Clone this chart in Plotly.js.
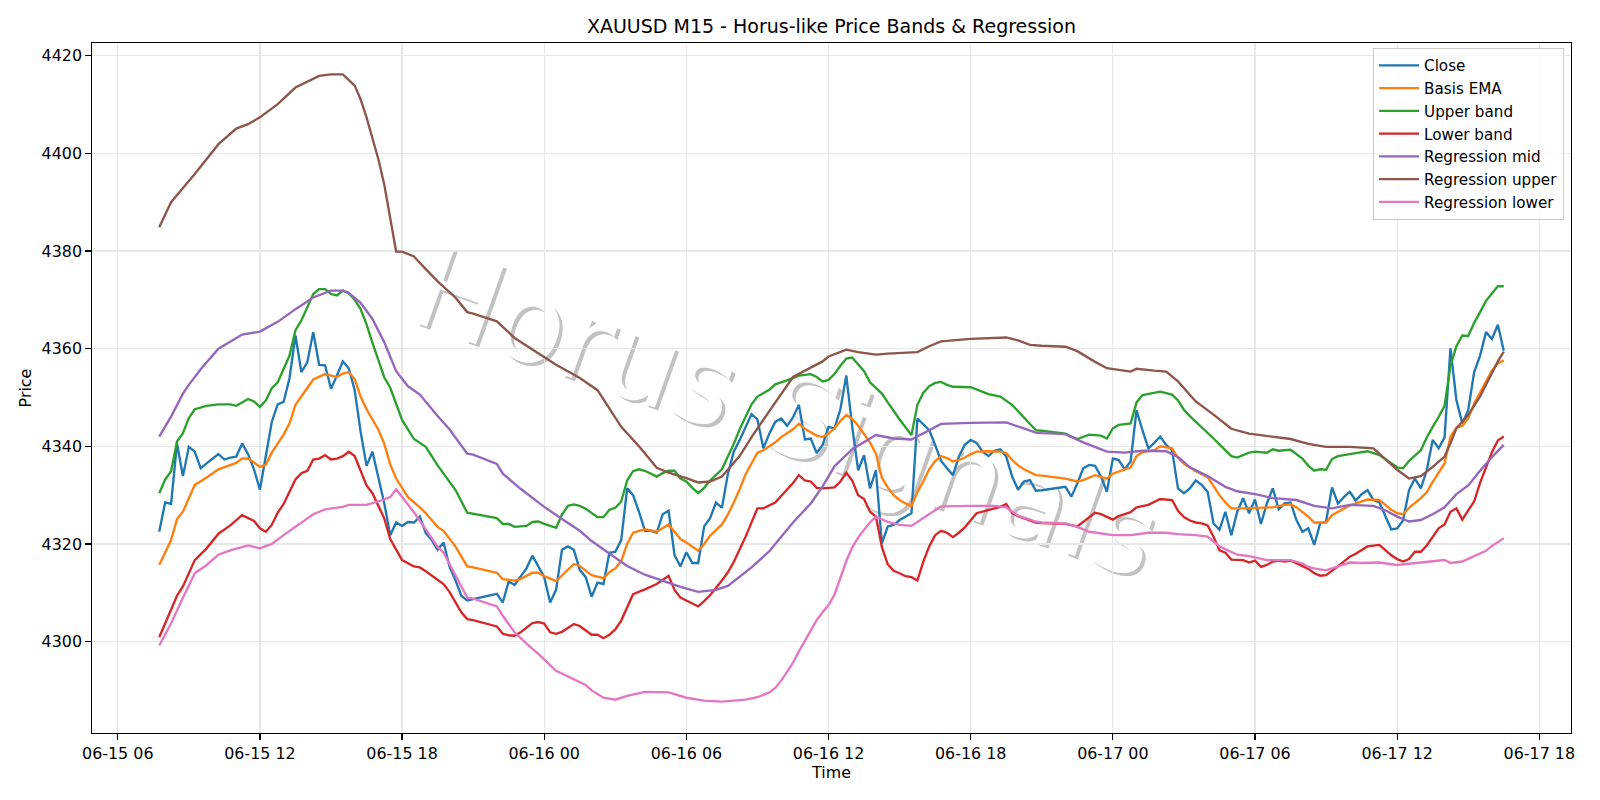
<!DOCTYPE html>
<html>
<head>
<meta charset="utf-8">
<script src="https://cdn.plot.ly/plotly-3.0.1.min.js"></script>
<style>html,body{margin:0;padding:0;background:#fff}#chart{width:1600px;height:800px}</style>
</head>
<body>
<div id="chart"></div>
<script>
// ---- data (time "DD HH:MM" in June, value) ----
const closeData = [
["15 07:45",4322.5],["15 08:00",4328.5],["15 08:15",4328.2],["15 08:30",4340.6],["15 08:45",4333.9],["15 09:00",4339.9],["15 09:15",4338.9],["15 09:30",4335.5],["15 09:45",4336.5],["15 10:00",4337.4],["15 10:15",4338.4],["15 10:30",4337.3],["15 10:45",4337.7],["15 11:00",4337.9],["15 11:15",4340.6],["15 11:30",4338.4],["15 11:45",4335.3],["15 12:00",4331.1],["15 12:15",4338.0],["15 12:30",4345.0],["15 12:45",4348.6],["15 13:00",4349.1],["15 13:15",4354.0],["15 13:30",4362.7],["15 13:45",4355.2],["15 14:00",4357.2],["15 14:15",4363.4],["15 14:30",4356.7],["15 14:45",4356.6],["15 15:00",4351.8],["15 15:15",4354.5],["15 15:30",4357.4],["15 15:45",4356.0],["15 16:00",4351.5],["15 16:15",4343.0],["15 16:30",4336.0],["15 16:45",4338.9],["15 17:00",4333.8],["15 17:15",4328.3],["15 17:30",4321.8],["15 17:45",4324.4],["15 18:00",4323.7],["15 18:15",4324.5],["15 18:30",4324.4],["15 18:45",4325.6],["15 19:00",4322.2],["15 19:15",4320.8],["15 19:30",4318.8],["15 19:45",4320.3],["15 20:00",4315.4],["15 20:15",4312.6],["15 20:30",4309.4],["15 20:45",4308.4],["15 21:00",4308.7],
["15 22:00",4309.8],["15 22:15",4308.0],["15 22:30",4312.3],["15 22:45",4311.6],["15 23:00",4313.3],["15 23:15",4315.0],["15 23:30",4317.6],["15 23:45",4315.4],
["16 00:00",4313.2],["16 00:15",4308.0],["16 00:30",4310.6],["16 00:45",4318.8],["16 01:00",4319.5],["16 01:15",4318.8],["16 01:30",4314.7],["16 01:45",4313.2],["16 02:00",4309.2],["16 02:15",4312.1],["16 02:30",4311.8],["16 02:45",4318.2],["16 03:00",4318.4],["16 03:15",4320.8],["16 03:30",4331.4],["16 03:45",4330.0],["16 04:00",4326.6],["16 04:15",4322.7],["16 04:30",4322.7],["16 04:45",4322.3],["16 05:00",4326.1],["16 05:15",4326.8],["16 05:30",4317.7],["16 05:45",4315.4],["16 06:00",4318.3],["16 06:15",4316.1],["16 06:30",4316.1],["16 06:45",4323.6],["16 07:00",4325.3],["16 07:15",4328.5],["16 07:30",4327.4],["16 07:45",4334.3],["16 08:00",4338.9],["16 08:15",4341.3],["16 08:30",4344.0],["16 08:45",4346.6],["16 09:00",4345.5],["16 09:15",4339.6],["16 09:30",4342.6],["16 09:45",4345.0],["16 10:00",4345.7],["16 10:15",4344.2],["16 10:30",4345.9],["16 10:45",4348.5],["16 11:00",4341.4],["16 11:15",4341.6],["16 11:30",4338.6],["16 11:45",4340.3],["16 12:00",4344.0],["16 12:15",4343.7],["16 12:30",4347.6],["16 12:45",4354.5],["16 13:00",4344.0],["16 13:15",4335.1],["16 13:30",4338.2],["16 13:45",4331.4],["16 14:00",4335.1],["16 14:15",4320.1],["16 14:30",4323.6],["16 14:45",4323.9],["16 15:00",4324.9],["16 15:15",4325.6],["16 15:30",4326.3],["16 15:45",4345.7],["16 16:00",4344.4],["16 16:15",4343.3],["16 16:30",4340.3],["16 16:45",4337.0],["16 17:00",4335.5],["16 17:15",4334.1],["16 17:30",4337.9],["16 17:45",4340.3],["16 18:00",4341.3],["16 18:15",4340.7],["16 18:30",4338.9],["16 18:45",4338.0],["16 19:00",4339.1],["16 19:15",4339.4],["16 19:30",4337.9],["16 19:45",4333.8],["16 20:00",4331.1],["16 20:15",4332.8],["16 20:30",4333.1],["16 20:45",4330.9],["16 21:00",4331.0],
["16 22:00",4331.7],["16 22:15",4329.7],["16 22:30",4332.4],["16 22:45",4335.5],["16 23:00",4336.2],["16 23:15",4336.0],["16 23:30",4333.8],["16 23:45",4330.7],
["17 00:00",4337.5],["17 00:15",4337.2],["17 00:30",4335.3],["17 00:45",4336.9],["17 01:00",4347.4],["17 01:15",4343.3],["17 01:30",4339.6],["17 01:45",4340.7],["17 02:00",4342.0],["17 02:15",4340.3],["17 02:30",4339.2],["17 02:45",4331.4],["17 03:00",4330.4],["17 03:15",4331.4],["17 03:30",4333.0],["17 03:45",4332.1],["17 04:00",4330.7],["17 04:15",4324.2],["17 04:30",4322.9],["17 04:45",4326.6],["17 05:00",4321.8],["17 05:15",4326.6],["17 05:30",4329.4],["17 05:45",4326.3],["17 06:00",4329.1],["17 06:15",4324.1],["17 06:30",4328.3],["17 06:45",4331.4],["17 07:00",4327.1],["17 07:15",4328.3],["17 07:30",4328.5],["17 07:45",4324.9],["17 08:00",4322.5],["17 08:15",4323.2],["17 08:30",4319.8],["17 08:45",4324.2],["17 09:00",4324.6],["17 09:15",4331.6],["17 09:30",4328.3],["17 09:45",4329.6],["17 10:00",4330.7],["17 10:15",4328.9],["17 10:30",4330.2],["17 10:45",4331.0],["17 11:00",4329.0],["17 11:15",4328.5],["17 11:30",4325.6],["17 11:45",4323.0],["17 12:00",4323.2],["17 12:15",4324.8],["17 12:30",4331.0],["17 12:45",4333.4],["17 13:00",4331.4],["17 13:15",4335.1],["17 13:30",4341.3],["17 13:45",4339.6],["17 14:00",4341.8],["17 14:15",4360.1],["17 14:30",4349.5],["17 14:45",4344.7],["17 15:00",4347.4],["17 15:15",4355.2],["17 15:30",4358.6],["17 15:45",4363.4],["17 16:00",4362.0],["17 16:15",4364.9],["17 16:30",4359.6]
];

const basisEma = [
["15 07:45",4315.7],["15 08:15",4320.8],["15 08:30",4325.1],["15 08:45",4326.6],["15 09:15",4332.1],["15 09:45",4333.6],["15 10:15",4335.3],["15 11:00",4336.6],["15 11:15",4337.5],["15 11:30",4337.5],["15 11:45",4336.7],["15 12:00",4335.8],["15 12:15",4336.2],["15 12:30",4338.7],["15 13:00",4342.4],["15 13:15",4344.7],["15 13:30",4348.5],["15 14:00",4351.8],["15 14:15",4353.7],["15 14:45",4354.8],["15 15:00",4354.5],["15 15:15",4354.2],["15 15:30",4354.9],["15 15:45",4355.2],["15 16:00",4353.8],["15 16:15",4350.2],["15 16:30",4347.6],["15 17:00",4343.4],["15 17:15",4340.5],["15 17:30",4336.3],["15 17:45",4333.4],["15 18:15",4329.6],["15 18:45",4327.5],["15 19:00",4326.3],["15 19:30",4323.5],["15 19:45",4322.7],["15 20:15",4319.5],["15 20:45",4315.4],["15 21:00",4315.2],
["15 22:00",4314.1],["15 22:15",4312.8],["15 22:45",4312.5],["15 23:00",4312.8],["15 23:30",4314.1],["15 23:45",4314.1],["16 00:00",4313.4],["16 00:30",4312.4],["16 00:45",4313.6],["16 01:15",4315.9],["16 01:30",4315.5],["16 02:00",4313.6],["16 02:30",4313.0],["16 02:45",4314.2],["16 03:00",4315.0],["16 03:15",4316.5],["16 03:30",4320.0],["16 03:45",4322.3],["16 04:15",4323.0],["16 04:45",4322.5],["16 05:15",4324.0],["16 05:30",4322.5],["16 05:45",4321.0],["16 06:00",4320.3],["16 06:30",4318.6],["16 06:45",4320.0],["16 07:00",4321.7],["16 07:30",4324.0],["16 07:45",4326.0],["16 08:00",4328.5],["16 08:15",4331.2],["16 08:30",4334.3],["16 09:00",4338.7],["16 09:15",4339.2],["16 09:45",4340.8],["16 10:00",4341.9],["16 10:30",4343.5],["16 10:45",4344.6],["16 11:00",4343.6],["16 11:15",4342.9],["16 11:30",4342.2],["16 11:45",4341.9],["16 12:00",4342.6],["16 12:15",4343.7],["16 12:30",4345.2],["16 12:45",4346.4],["16 13:00",4345.6],["16 13:15",4344.2],["16 13:30",4342.5],["16 13:45",4340.8],["16 14:00",4338.5],["16 14:15",4333.6],["16 14:30",4331.6],["16 14:45",4330.0],["16 15:00",4329.0],["16 15:15",4328.3],["16 15:30",4327.8],["16 15:45",4330.6],["16 16:00",4332.8],["16 16:15",4335.3],["16 16:30",4337.0],["16 16:45",4338.0],["16 17:00",4337.6],["16 17:15",4336.9],["16 17:30",4337.2],["16 17:45",4337.7],["16 18:00",4338.4],["16 18:15",4338.9],["16 18:45",4339.0],["16 19:15",4338.9],["16 19:30",4338.6],["16 19:45",4337.2],["16 20:00",4336.1],["16 20:15",4335.3],["16 20:45",4334.1],["16 21:00",4334.0],
["16 22:00",4333.4],["16 22:30",4332.8],["16 22:45",4333.1],["16 23:15",4334.1],["16 23:45",4333.4],["17 00:00",4334.4],["17 00:30",4335.3],["17 00:45",4335.7],["17 01:00",4338.0],["17 01:15",4338.8],["17 01:45",4339.2],["17 02:00",4340.0],["17 02:30",4339.6],["17 02:45",4337.6],["17 03:00",4336.4],["17 03:15",4335.6],["17 03:30",4334.9],["17 04:00",4333.7],["17 04:15",4331.8],["17 04:30",4330.0],["17 04:45",4328.5],["17 05:00",4327.3],["17 05:30",4327.3],["17 06:15",4327.5],["17 06:45",4327.5],["17 07:15",4328.0],["17 07:30",4328.1],["17 07:45",4327.5],["17 08:15",4325.6],["17 08:30",4324.4],["17 09:00",4324.4],["17 09:15",4325.9],["17 10:00",4327.9],["17 10:45",4329.1],["17 11:15",4329.0],["17 11:45",4327.0],["17 12:00",4326.3],["17 12:15",4326.1],["17 12:30",4327.4],["17 13:00",4329.4],["17 13:15",4330.6],["17 13:30",4332.7],["17 14:00",4336.5],["17 14:15",4342.0],["17 14:30",4343.8],["17 14:45",4344.2],["17 15:00",4345.7],["17 15:15",4348.8],["17 15:30",4351.0],["17 15:45",4353.5],["17 16:00",4355.5],["17 16:15",4357.0],["17 16:30",4357.6]
];

const upperBand = [
["15 07:45",4330.4],["15 08:00",4333.2],["15 08:15",4334.9],["15 08:30",4341.0],["15 08:45",4342.7],["15 09:00",4345.8],["15 09:15",4347.6],["15 09:45",4348.3],["15 10:15",4348.6],["15 10:45",4348.6],["15 11:00",4348.3],["15 11:30",4349.7],["15 11:45",4349.2],["15 12:00",4348.1],["15 12:15",4349.4],["15 12:30",4351.9],["15 12:45",4353.1],["15 13:15",4358.6],["15 13:30",4363.8],["15 13:45",4365.8],["15 14:15",4371.2],["15 14:30",4372.2],["15 14:45",4372.2],["15 15:00",4371.2],["15 15:15",4370.9],["15 15:30",4371.9],["15 15:45",4371.4],["15 16:00",4370.0],["15 16:15",4368.1],["15 16:30",4365.0],["15 16:45",4361.2],["15 17:00",4357.5],["15 17:15",4354.1],["15 17:30",4352.0],["15 17:45",4348.5],["15 18:00",4345.4],["15 18:30",4341.5],["15 19:00",4339.9],["15 19:30",4336.1],["15 19:45",4334.4],["15 20:15",4331.1],["15 20:45",4326.4],["15 21:00",4326.2],
["15 22:00",4325.3],["15 22:15",4324.1],["15 22:30",4324.1],["15 22:45",4323.5],["15 23:15",4323.7],["15 23:30",4324.5],["15 23:45",4324.6],["16 00:00",4324.1],["16 00:30",4323.3],["16 00:45",4326.0],["16 01:00",4327.8],["16 01:15",4328.1],["16 01:30",4327.8],["16 01:45",4327.2],["16 02:15",4325.5],["16 02:30",4325.5],["16 02:45",4327.0],["16 03:00",4327.4],["16 03:15",4328.7],["16 03:30",4333.0],["16 03:45",4334.9],["16 04:00",4335.3],["16 04:15",4335.0],["16 04:45",4333.8],["16 05:00",4334.5],["16 05:15",4335.0],["16 05:30",4335.0],["16 05:45",4333.4],["16 06:00",4332.8],["16 06:15",4331.5],["16 06:30",4330.4],["16 06:45",4331.5],["16 07:00",4333.0],["16 07:30",4335.3],["16 07:45",4337.8],["16 08:00",4340.5],["16 08:15",4343.5],["16 08:30",4346.0],["16 08:45",4348.6],["16 09:00",4350.2],["16 09:30",4351.6],["16 09:45",4352.7],["16 10:15",4353.5],["16 10:45",4354.5],["16 11:15",4354.8],["16 11:30",4354.2],["16 11:45",4353.3],["16 12:00",4353.6],["16 12:15",4354.8],["16 12:30",4356.5],["16 12:45",4358.0],["16 13:00",4358.2],["16 13:15",4356.8],["16 13:30",4355.4],["16 13:45",4353.1],["16 14:00",4352.0],["16 14:15",4350.8],["16 14:30",4349.0],["16 14:45",4347.2],["16 15:00",4345.5],["16 15:15",4343.9],["16 15:30",4342.3],["16 15:45",4348.5],["16 16:00",4351.0],["16 16:15",4352.3],["16 16:30",4353.0],["16 16:45",4353.2],["16 17:00",4352.6],["16 17:15",4352.2],["16 18:00",4352.1],["16 18:45",4350.7],["16 19:15",4350.2],["16 19:45",4348.5],["16 20:15",4345.8],["16 20:45",4343.3],["16 21:00",4343.2],
["16 22:00",4342.6],["16 22:15",4342.0],["16 22:30",4341.5],["16 23:00",4342.4],["16 23:30",4342.2],["16 23:45",4341.6],["17 00:00",4343.7],["17 00:15",4344.4],["17 00:45",4344.7],["17 01:00",4349.0],["17 01:15",4350.5],["17 02:00",4351.2],["17 02:30",4350.6],["17 02:45",4349.4],["17 03:00",4347.5],["17 03:15",4346.2],["17 03:45",4344.0],["17 04:15",4341.6],["17 04:30",4340.4],["17 05:00",4338.0],["17 05:15",4337.7],["17 05:45",4338.7],["17 06:00",4338.9],["17 06:30",4338.7],["17 06:45",4339.4],["17 07:00",4339.1],["17 07:30",4339.3],["17 07:45",4338.4],["17 08:00",4337.5],["17 08:15",4336.0],["17 08:30",4335.0],["17 08:45",4335.3],["17 09:00",4335.2],["17 09:15",4337.4],["17 09:30",4338.0],["17 10:15",4338.6],["17 10:45",4339.0],["17 11:15",4338.2],["17 11:45",4336.5],["17 12:00",4335.7],["17 12:15",4335.5],["17 12:30",4337.0],["17 13:00",4339.2],["17 13:15",4341.8],["17 13:30",4344.0],["17 13:45",4346.0],["17 14:00",4348.3],["17 14:15",4356.5],["17 14:30",4360.5],["17 14:45",4362.7],["17 15:00",4362.6],["17 15:15",4365.3],["17 15:30",4367.5],["17 15:45",4369.8],["17 16:00",4371.3],["17 16:15",4372.8],["17 16:30",4372.8]
];

const lowerBand = [
["15 07:45",4300.9],["15 08:15",4306.5],["15 08:30",4309.4],["15 08:45",4311.3],["15 09:15",4316.7],["15 09:45",4319.1],["15 10:15",4322.1],["15 10:45",4323.8],["15 11:15",4325.9],["15 11:45",4324.7],["15 12:00",4323.2],["15 12:15",4322.5],["15 12:30",4323.9],["15 12:45",4326.4],["15 13:00",4328.2],["15 13:30",4333.2],["15 13:45",4334.5],["15 14:00",4335.0],["15 14:15",4337.3],["15 14:30",4337.5],["15 14:45",4338.2],["15 15:00",4337.3],["15 15:15",4337.5],["15 15:30",4338.0],["15 15:45",4338.9],["15 16:00",4338.0],["15 16:15",4335.1],["15 16:30",4332.0],["15 16:45",4330.4],["15 17:00",4327.8],["15 17:15",4325.2],["15 17:30",4321.0],["15 17:45",4318.7],["15 18:00",4316.7],["15 18:30",4315.4],["15 18:45",4315.2],["15 19:00",4314.4],["15 19:30",4312.7],["15 19:45",4311.8],["15 20:00",4310.2],["15 20:15",4308.2],["15 20:30",4306.0],["15 20:45",4304.6],["15 21:00",4304.4],
["15 22:00",4303.1],["15 22:15",4301.6],["15 22:30",4301.3],["15 22:45",4301.2],["15 23:00",4301.9],["15 23:15",4302.8],["15 23:30",4303.8],["15 23:45",4304.0],["16 00:00",4303.7],["16 00:15",4301.9],["16 00:30",4301.6],["16 00:45",4302.0],["16 01:00",4302.8],["16 01:15",4303.6],["16 01:30",4303.2],["16 01:45",4302.2],["16 02:00",4301.4],["16 02:15",4301.4],["16 02:30",4300.7],["16 02:45",4301.4],["16 03:00",4302.5],["16 03:15",4304.3],["16 03:30",4307.0],["16 03:45",4309.7],["16 04:15",4310.7],["16 04:45",4311.8],["16 05:15",4313.5],["16 05:30",4310.6],["16 05:45",4309.0],["16 06:15",4307.8],["16 06:30",4307.2],["16 06:45",4308.3],["16 07:00",4309.5],["16 07:30",4312.5],["16 07:45",4314.2],["16 08:00",4316.3],["16 08:30",4321.5],["16 09:00",4327.3],["16 09:15",4327.3],["16 09:45",4328.5],["16 10:00",4329.8],["16 10:30",4332.5],["16 10:45",4334.1],["16 11:00",4333.0],["16 11:15",4332.8],["16 11:30",4331.5],["16 11:45",4331.4],["16 12:15",4331.6],["16 12:30",4332.8],["16 12:45",4334.6],["16 13:00",4333.0],["16 13:15",4330.0],["16 13:30",4329.2],["16 13:45",4326.6],["16 14:00",4325.6],["16 14:15",4319.4],["16 14:30",4315.8],["16 14:45",4314.5],["16 15:00",4314.0],["16 15:15",4313.4],["16 15:30",4313.2],["16 15:45",4312.5],["16 16:00",4316.4],["16 16:15",4319.5],["16 16:30",4321.8],["16 16:45",4322.7],["16 17:00",4322.3],["16 17:15",4321.4],["16 17:30",4322.3],["16 17:45",4323.4],["16 18:15",4326.3],["16 18:45",4327.0],["16 19:15",4327.6],["16 19:30",4328.2],["16 19:45",4326.3],["16 20:00",4325.7],["16 20:45",4324.4],["16 21:00",4324.3],
["16 22:00",4324.1],["16 22:30",4323.6],["16 22:45",4324.5],["16 23:15",4326.4],["16 23:30",4326.1],["17 00:00",4325.0],["17 00:15",4325.7],["17 00:45",4326.5],["17 01:00",4327.5],["17 01:30",4328.0],["17 02:00",4329.2],["17 02:30",4329.0],["17 02:45",4326.8],["17 03:00",4325.5],["17 03:15",4324.8],["17 03:30",4324.4],["17 03:45",4324.2],["17 04:00",4323.8],["17 04:15",4321.5],["17 04:30",4318.7],["17 04:45",4318.2],["17 05:00",4316.8],["17 05:30",4316.7],["17 05:45",4316.2],["17 06:00",4316.6],["17 06:15",4315.3],["17 06:30",4315.7],["17 06:45",4316.4],["17 07:00",4316.6],["17 07:15",4316.4],["17 07:30",4316.6],["17 08:00",4315.4],["17 08:15",4314.9],["17 08:30",4314.0],["17 08:45",4313.5],["17 09:00",4313.6],["17 09:30",4315.4],["17 10:00",4317.4],["17 10:15",4318.0],["17 10:45",4319.5],["17 11:15",4319.8],["17 11:45",4317.7],["17 12:00",4316.9],["17 12:15",4316.4],["17 12:30",4316.9],["17 12:45",4318.4],["17 13:00",4318.4],["17 13:15",4319.7],["17 13:45",4323.2],["17 14:00",4324.0],["17 14:15",4326.6],["17 14:30",4327.3],["17 14:45",4325.0],["17 15:00",4326.9],["17 15:15",4328.7],["17 15:30",4332.5],["17 15:45",4335.8],["17 16:00",4338.8],["17 16:15",4341.2],["17 16:30",4342.0]
];

const regMid = [
["15 07:45",4342.0],["15 08:15",4346.1],["15 08:45",4350.8],["15 09:00",4352.6],["15 09:30",4355.8],["15 10:15",4360.0],["15 11:15",4362.9],["15 12:00",4363.5],["15 12:45",4365.5],["15 13:30",4368.1],["15 14:15",4370.5],["15 15:00",4371.9],["15 15:30",4371.9],["15 15:45",4371.4],["15 16:15",4369.4],["15 16:45",4366.1],["15 17:15",4361.3],["15 17:45",4355.4],["15 18:15",4352.3],["15 18:45",4350.6],["15 19:30",4346.2],["15 20:00",4343.5],["15 20:45",4338.5],["15 21:00",4338.3],
["15 22:00",4336.4],["15 22:15",4334.4],["15 23:00",4331.3],["16 00:00",4327.6],["16 00:45",4325.1],["16 01:30",4322.7],["16 02:00",4320.6],["16 02:45",4318.1],["16 03:30",4315.5],["16 04:15",4313.7],["16 05:00",4312.4],["16 05:45",4311.2],["16 06:30",4310.2],["16 07:15",4310.6],["16 07:45",4311.4],["16 08:45",4315.2],["16 09:30",4318.5],["16 10:30",4324.4],["16 11:15",4328.3],["16 11:45",4331.8],["16 12:15",4335.9],["16 13:00",4339.4],["16 14:00",4342.3],["16 14:45",4341.6],["16 15:30",4341.4],["16 16:15",4343.3],["16 16:45",4344.6],["16 18:00",4344.8],["16 19:30",4344.9],["16 20:45",4342.8],["16 21:00",4342.7],
["16 22:00",4342.5],["16 22:45",4340.8],["16 23:45",4338.9],["17 00:30",4338.7],["17 01:15",4339.1],["17 02:15",4339.0],["17 02:45",4337.8],["17 03:15",4335.7],["17 04:00",4333.9],["17 04:45",4331.7],["17 05:15",4330.8],["17 06:00",4330.2],["17 06:45",4329.4],["17 07:45",4329.0],["17 08:30",4327.8],["17 09:15",4327.3],["17 10:00",4328.0],["17 11:00",4327.8],["17 11:30",4326.9],["17 12:00",4325.6],["17 12:30",4324.6],["17 13:00",4324.9],["17 13:30",4326.1],["17 14:00",4327.5],["17 14:30",4330.2],["17 15:00",4332.0],["17 15:30",4335.0],["17 16:00",4337.8],["17 16:30",4340.3]
];

const regUpper = [
["15 07:45",4384.9],["15 08:15",4390.0],["15 09:15",4395.8],["15 10:15",4401.9],["15 11:00",4405.1],["15 11:30",4406.0],["15 12:00",4407.4],["15 12:45",4410.1],["15 13:30",4413.5],["15 14:30",4415.9],["15 15:00",4416.2],["15 15:30",4416.2],["15 16:00",4413.9],["15 16:15",4411.1],["15 16:30",4407.4],["15 16:45",4403.0],["15 17:00",4398.8],["15 17:15",4393.6],["15 17:30",4386.9],["15 17:45",4379.9],["15 18:00",4379.9],["15 18:30",4378.9],["15 19:00",4376.3],["15 19:30",4373.8],["15 20:15",4370.5],["15 20:45",4367.5],["15 21:00",4367.2],
["15 22:00",4365.6],["15 22:45",4362.2],["15 23:30",4359.9],["16 00:30",4356.7],["16 01:30",4354.0],["16 02:15",4351.5],["16 03:15",4344.0],["16 04:00",4340.0],["16 04:45",4335.6],["16 05:15",4334.6],["16 06:00",4333.5],["16 06:30",4332.6],["16 07:00",4332.8],["16 07:30",4333.8],["16 08:15",4338.0],["16 08:45",4341.9],["16 09:30",4347.2],["16 10:30",4354.2],["16 11:45",4357.4],["16 12:00",4358.4],["16 12:45",4359.8],["16 13:15",4359.3],["16 14:00",4358.8],["16 14:30",4359.0],["16 15:45",4359.3],["16 16:15",4360.5],["16 16:45",4361.5],["16 18:00",4362.0],["16 19:30",4362.3],["16 20:00",4361.7],["16 20:30",4360.8],["16 21:00",4360.6],
["16 22:00",4360.4],["16 22:30",4359.5],["16 23:15",4357.3],["16 23:45",4356.0],["17 00:45",4355.3],["17 01:00",4355.9],["17 01:45",4355.5],["17 02:15",4355.3],["17 02:45",4353.3],["17 03:30",4349.2],["17 04:15",4346.5],["17 05:00",4343.6],["17 05:45",4342.6],["17 06:30",4342.1],["17 07:30",4341.5],["17 08:15",4340.5],["17 09:00",4339.9],["17 10:00",4339.9],["17 11:00",4339.6],["17 11:30",4337.4],["17 12:00",4335.2],["17 12:30",4333.4],["17 13:00",4333.9],["17 13:30",4335.8],["17 14:00",4337.9],["17 14:15",4340.6],["17 14:30",4343.7],["17 15:00",4346.4],["17 15:30",4350.2],["17 15:45",4352.6],["17 16:15",4357.4],["17 16:30",4359.4]
];

const regLower = [
["15 07:45",4299.2],["15 08:15",4303.7],["15 08:45",4309.0],["15 09:15",4314.0],["15 09:45",4315.7],["15 10:15",4317.8],["15 10:45",4318.7],["15 11:30",4319.7],["15 12:00",4319.1],["15 12:30",4320.0],["15 13:00",4321.8],["15 13:30",4323.5],["15 14:00",4325.1],["15 14:15",4326.1],["15 14:45",4327.1],["15 15:30",4327.6],["15 15:45",4328.0],["15 16:30",4328.0],["15 17:00",4328.7],["15 17:30",4329.6],["15 17:45",4331.2],["15 18:00",4329.7],["15 18:30",4326.5],["15 19:00",4323.0],["15 19:30",4319.4],["15 19:45",4318.2],["15 20:15",4313.6],["15 20:45",4309.0],["15 21:00",4308.8],
["15 22:00",4307.2],["15 22:15",4305.3],["15 22:45",4301.9],["15 23:15",4299.6],["15 23:45",4297.5],["16 00:30",4294.0],["16 01:15",4292.3],["16 01:45",4291.1],["16 02:00",4290.0],["16 02:30",4288.5],["16 03:00",4288.1],["16 03:30",4288.9],["16 04:15",4289.7],["16 05:15",4289.6],["16 06:00",4288.5],["16 06:45",4287.9],["16 07:30",4287.7],["16 08:30",4288.1],["16 09:00",4288.6],["16 09:30",4289.6],["16 09:45",4290.5],["16 10:00",4292.0],["16 10:15",4293.8],["16 10:30",4295.7],["16 10:45",4298.0],["16 11:00",4300.1],["16 11:15",4302.3],["16 11:30",4304.4],["16 11:45",4306.0],["16 12:00",4307.5],["16 12:15",4309.6],["16 12:30",4313.2],["16 12:45",4316.5],["16 13:00",4319.3],["16 13:15",4321.3],["16 13:30",4322.9],["16 13:45",4324.4],["16 14:00",4325.6],["16 14:30",4324.5],["16 15:00",4323.9],["16 15:30",4323.7],["16 16:00",4325.3],["16 16:45",4327.7],["16 18:00",4327.8],["16 19:00",4327.8],["16 19:30",4327.5],["16 20:00",4325.8],["16 20:45",4324.6],["16 21:00",4324.4],
["16 22:00",4324.2],["16 22:30",4323.5],["16 23:00",4322.5],["17 00:00",4321.8],["17 00:45",4321.8],["17 01:30",4322.3],["17 02:15",4322.3],["17 02:45",4322.0],["17 03:30",4321.8],["17 04:00",4321.5],["17 04:30",4319.5],["17 05:15",4317.8],["17 05:45",4317.5],["17 06:30",4316.7],["17 07:00",4316.7],["17 07:30",4316.7],["17 08:00",4316.0],["17 08:15",4315.3],["17 08:30",4315.0],["17 09:00",4314.6],["17 09:30",4315.4],["17 10:00",4316.2],["17 10:30",4316.1],["17 11:15",4316.2],["17 12:00",4315.7],["17 12:45",4316.1],["17 13:30",4316.4],["17 14:00",4316.7],["17 14:15",4316.1],["17 14:45",4316.4],["17 15:15",4317.5],["17 15:45",4318.6],["17 16:00",4319.6],["17 16:30",4321.2]
];

const seriesNames = ["Close","Basis EMA","Upper band","Lower band","Regression mid","Regression upper","Regression lower"];
const seriesColors = ["#1f77b4","#ff7f0e","#2ca02c","#d62728","#9467bd","#8c564b","#e377c2"];
const xTickVals = ["06-15 06:00","06-15 12:00","06-15 18:00","06-16 00:00","06-16 06:00","06-16 12:00","06-16 18:00","06-17 00:00","06-17 06:00","06-17 12:00","06-17 18:00"];
const xTickLabels = ["06-15 06","06-15 12","06-15 18","06-16 00","06-16 06","06-16 12","06-16 18","06-17 00","06-17 06","06-17 12","06-17 18"];
const yTickVals = [4300,4320,4340,4360,4380,4400,4420];
const titleText = "XAUUSD M15 - Horus-like Price Bands & Regression";
const watermarkText = "Horus Signals";

// ---- build ----
const YEAR = "2026";
const toDate = s => YEAR + "-06-" + s;            // "15 07:45" -> "2026-06-15 07:45"
const tickDate = s => YEAR + "-" + s;             // "06-15 06:00" -> "2026-06-15 06:00"
const allSeries = [closeData, basisEma, upperBand, lowerBand, regMid, regUpper, regLower];

const traces = allSeries.map((arr, i) => ({
  type: "scatter", mode: "lines", name: seriesNames[i],
  x: arr.map(p => toDate(p[0])), y: arr.map(p => p[1]),
  line: {color: seriesColors[i], width: 2.35}
}));

// axis ranges with 5% margins like the original
const allX = allSeries.flat().map(p => new Date(toDate(p[0]).replace(" ", "T") + ":00Z").getTime());
const allY = allSeries.flat().map(p => p[1]);
const xmin = Math.min(...allX), xmax = Math.max(...allX);
const ymin = Math.min(...allY), ymax = Math.max(...allY);
const fmt = t => new Date(t).toISOString().replace("T", " ").slice(0, 19);
const xr = [fmt(xmin - 0.05 * (xmax - xmin)), fmt(xmax + 0.05 * (xmax - xmin))];
const yr = [ymin - 0.05 * (ymax - ymin), ymax + 0.05 * (ymax - ymin)];

const font = "DejaVu Sans, Liberation Sans, sans-serif";
const axisCommon = {
  showline: true, mirror: true, linecolor: "#000", linewidth: 1.25,
  ticks: "outside", ticklen: 5.5, tickwidth: 1.25, tickcolor: "#000",
  showgrid: true, gridcolor: "#e7e7e7", gridwidth: 1.25, zeroline: false,
  tickfont: {family: font, size: 15.9, color: "#000"}
};

const wmCx = 0.4713, wmCy = 0.476;
function wmShape(dx, dy, color) {
  return {
    type: "rect", xref: "paper", yref: "paper",
    x0: wmCx + dx - 0.01, x1: wmCx + dx + 0.01, y0: wmCy + dy - 0.01, y1: wmCy + dy + 0.01,
    line: {width: 0}, fillcolor: "rgba(0,0,0,0)", layer: "below",
    label: {text: watermarkText, textangle: 19.5, textposition: "middle center",
            font: {family: font, size: 114, color: color}}
  };
}

const layout = {
  width: 1600, height: 800,
  margin: {l: 92, r: 29, t: 43, b: 67},
  paper_bgcolor: "#fff", plot_bgcolor: "#fff",
  title: {text: titleText, font: {family: font, size: 19, color: "#000"},
          x: 0.5, xref: "paper", xanchor: "center", y: 1 - 33 / 800, yref: "container", yanchor: "bottom"},
  xaxis: Object.assign({}, axisCommon, {
    type: "date", range: xr, tickvals: xTickVals.map(tickDate), ticktext: xTickLabels,
    title: {text: "Time", font: {family: font, size: 15.9, color: "#000"}, standoff: 2}
  }),
  yaxis: Object.assign({}, axisCommon, {
    range: yr, tickvals: yTickVals, ticktext: yTickVals.map(String),
    title: {text: "Price", font: {family: font, size: 15.9, color: "#000"}, standoff: 6}
  }),
  legend: {x: 0.9953, y: 0.9928, xanchor: "right", yanchor: "top", itemwidth: 40,
           bgcolor: "rgba(255,255,255,0.8)", bordercolor: "#cccccc", borderwidth: 1,
           font: {family: font, size: 15.2, color: "#000"}},
  showlegend: true,
  shapes: [wmShape(0.0022, -0.0045, "#c2c2c2"), wmShape(0, 0, "#ffffff")]
};

Plotly.newPlot("chart", traces, layout, {displayModeBar: false, staticPlot: true});
</script>
</body>
</html>
